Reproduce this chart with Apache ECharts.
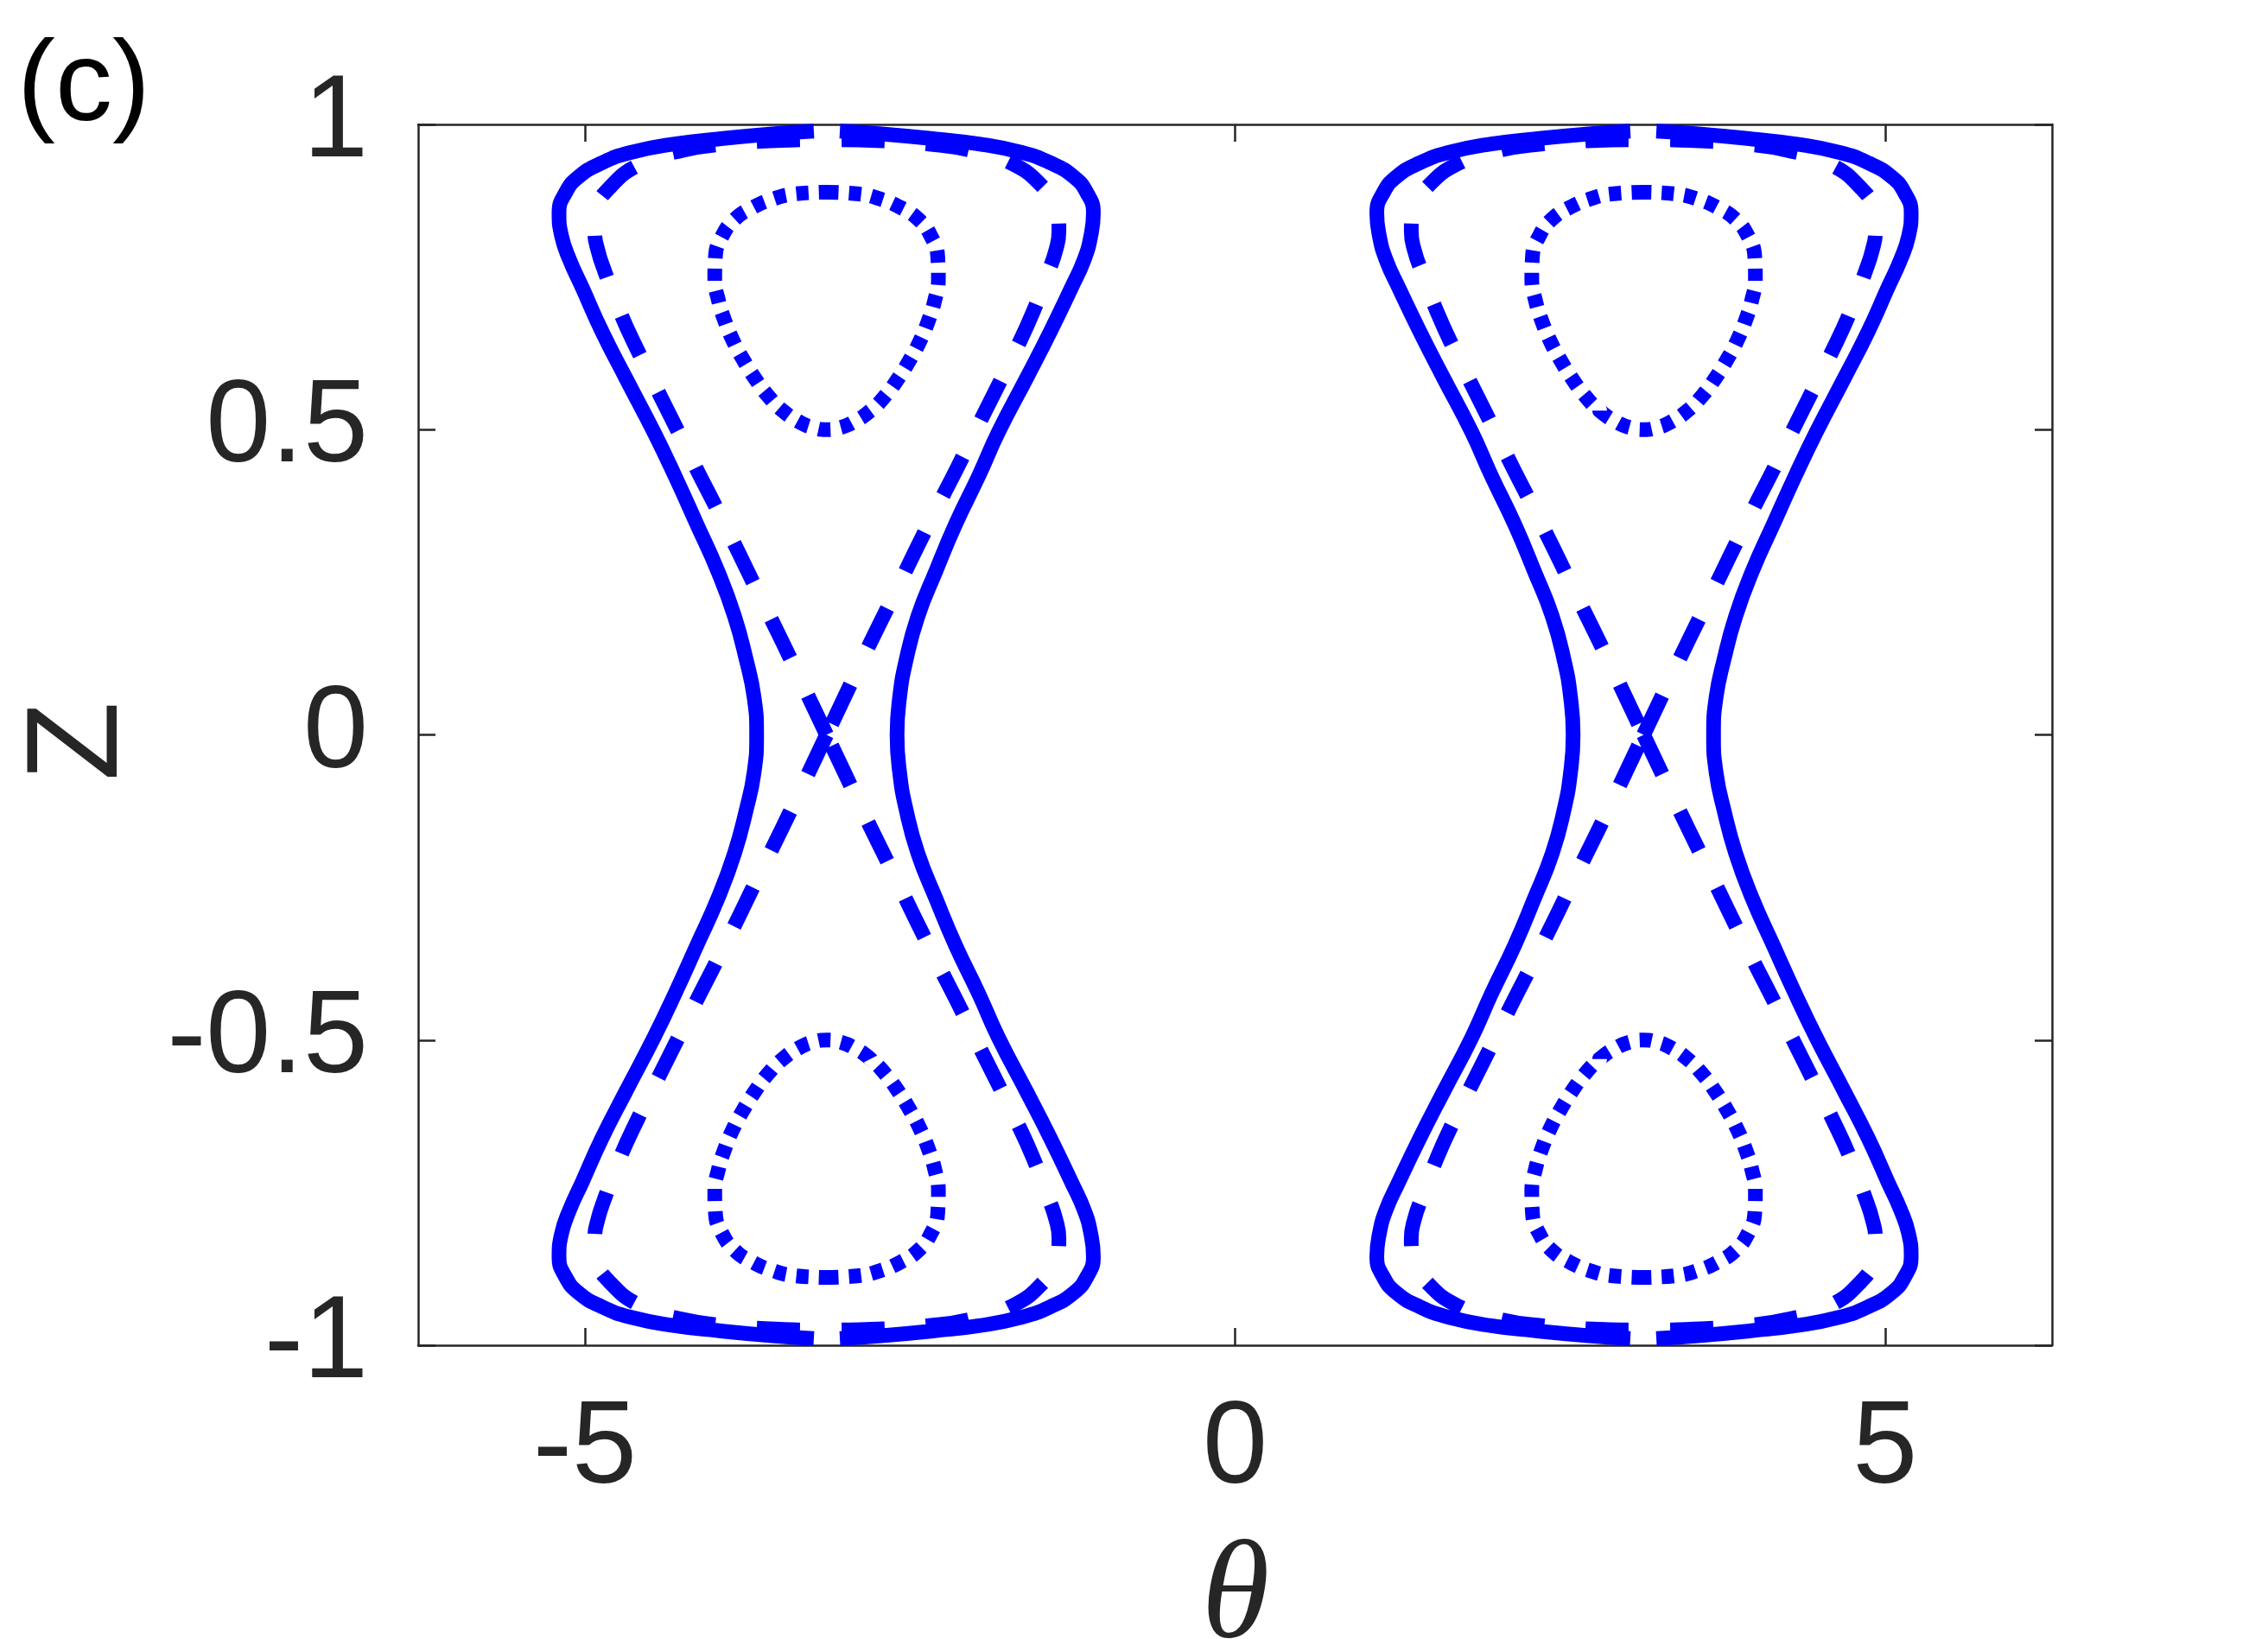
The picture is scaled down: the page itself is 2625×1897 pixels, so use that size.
<!DOCTYPE html>
<html><head><meta charset="utf-8">
<script src="https://cdn.jsdelivr.net/npm/echarts@6/dist/echarts.min.js"></script>
<style>html,body{margin:0;padding:0;background:#fff}#chart{width:2625px;height:1897px}</style>
</head><body><div id="chart"></div>
<script>
// ---- axis ticks ----
const xTicks = [-5, 0, 5];
const yTicks = [-1, -0.5, 0, 0.5, 1];
const thetaMin = -6.2832, thetaMax = 6.2832;

// ---- solid curves (two branches per lobe, top -> bottom) ----
const solidZ = [0.989, 0.984, 0.976, 0.968, 0.954, 0.937, 0.914, 0.888, 0.855, 0.817, 0.779, 0.732, 0.661, 0.586, 0.496, 0.425, 0.345, 0.269, 0.194, 0.123, 0.062, 0.0,
  -0.062, -0.123, -0.194, -0.269, -0.345, -0.425, -0.496, -0.586, -0.661, -0.732, -0.779, -0.817, -0.855, -0.888, -0.914, -0.937, -0.954, -0.968, -0.976, -0.984, -0.989];
const solidThetaL1 = [-3.24, -3.58, -3.98, -4.31, -4.65, -4.87, -5.05, -5.15, -5.20, -5.18, -5.12, -5.02, -4.87, -4.69, -4.47, -4.31, -4.14, -3.98, -3.85, -3.76, -3.70, -3.68,
  -3.70, -3.76, -3.85, -3.98, -4.14, -4.31, -4.47, -4.69, -4.87, -5.02, -5.12, -5.18, -5.20, -5.15, -5.05, -4.87, -4.65, -4.31, -3.98, -3.58, -3.24];
const solidThetaR1 = [-3.04, -2.70, -2.30, -1.97, -1.64, -1.42, -1.24, -1.14, -1.09, -1.11, -1.16, -1.26, -1.42, -1.60, -1.82, -1.97, -2.15, -2.30, -2.44, -2.53, -2.58, -2.60,
  -2.58, -2.53, -2.44, -2.30, -2.15, -1.97, -1.82, -1.60, -1.42, -1.26, -1.16, -1.11, -1.09, -1.14, -1.24, -1.42, -1.64, -1.97, -2.30, -2.70, -3.04];
const solidThetaL2 = [3.04, 2.70, 2.30, 1.97, 1.64, 1.42, 1.24, 1.14, 1.09, 1.11, 1.16, 1.26, 1.42, 1.60, 1.82, 1.97, 2.15, 2.30, 2.44, 2.53, 2.58, 2.60,
  2.58, 2.53, 2.44, 2.30, 2.15, 1.97, 1.82, 1.60, 1.42, 1.26, 1.16, 1.11, 1.09, 1.14, 1.24, 1.42, 1.64, 1.97, 2.30, 2.70, 3.04];
const solidThetaR2 = [3.24, 3.58, 3.98, 4.31, 4.65, 4.87, 5.05, 5.15, 5.20, 5.18, 5.12, 5.02, 4.87, 4.69, 4.47, 4.31, 4.14, 3.98, 3.85, 3.76, 3.70, 3.68,
  3.70, 3.76, 3.85, 3.98, 4.14, 4.31, 4.47, 4.69, 4.87, 5.02, 5.12, 5.18, 5.20, 5.15, 5.05, 4.87, 4.65, 4.31, 3.98, 3.58, 3.24];

// ---- dashed separatrix (upper and lower loop per lobe, from the crossing point) ----
const sepZUpper = [0, 0.056, 0.120, 0.184, 0.247, 0.311, 0.374, 0.437, 0.501, 0.564, 0.627, 0.692, 0.759, 0.793, 0.825, 0.860, 0.895, 0.936, 0.958, 0.968, 0.973, 0.975,
  0.973, 0.968, 0.958, 0.936, 0.895, 0.860, 0.825, 0.793, 0.759, 0.692, 0.627, 0.564, 0.501, 0.437, 0.374, 0.311, 0.247, 0.184, 0.120, 0.056, 0];
const sepZLower = [0, -0.056, -0.120, -0.184, -0.247, -0.311, -0.374, -0.437, -0.501, -0.564, -0.627, -0.692, -0.759, -0.793, -0.825, -0.860, -0.895, -0.936, -0.958, -0.968, -0.973, -0.975,
  -0.973, -0.968, -0.958, -0.936, -0.895, -0.860, -0.825, -0.793, -0.759, -0.692, -0.627, -0.564, -0.501, -0.437, -0.374, -0.311, -0.247, -0.184, -0.120, -0.056, 0];
const sepTheta1 = [-3.142, -3.267, -3.409, -3.555, -3.701, -3.847, -3.995, -4.146, -4.294, -4.442, -4.589, -4.729, -4.848, -4.900, -4.925, -4.910, -4.817, -4.567, -4.239, -3.918, -3.580, -3.142,
  -2.700, -2.366, -2.045, -1.717, -1.467, -1.370, -1.355, -1.380, -1.435, -1.555, -1.695, -1.842, -1.990, -2.138, -2.289, -2.437, -2.583, -2.729, -2.875, -3.017, -3.142];
const sepTheta2 = [3.142, 3.267, 3.409, 3.555, 3.701, 3.847, 3.995, 4.146, 4.294, 4.442, 4.589, 4.729, 4.848, 4.900, 4.925, 4.910, 4.817, 4.567, 4.239, 3.918, 3.580, 3.142,
  2.700, 2.366, 2.045, 1.717, 1.467, 1.370, 1.355, 1.380, 1.435, 1.555, 1.695, 1.842, 1.990, 2.138, 2.289, 2.437, 2.583, 2.729, 2.875, 3.017, 3.142];

// ---- dotted closed orbits ----
const dotZUpper = [0.889, 0.886, 0.878, 0.864, 0.845, 0.817, 0.783, 0.747, 0.712, 0.679, 0.646, 0.615, 0.585, 0.557, 0.531, 0.512, 0.503, 0.500,
  0.503, 0.512, 0.531, 0.557, 0.585, 0.615, 0.646, 0.679, 0.712, 0.747, 0.783, 0.817, 0.845, 0.864, 0.878, 0.886, 0.889];
const dotZLower = [-0.889, -0.886, -0.878, -0.864, -0.845, -0.817, -0.783, -0.747, -0.712, -0.679, -0.646, -0.615, -0.585, -0.557, -0.531, -0.512, -0.503, -0.500,
  -0.503, -0.512, -0.531, -0.557, -0.585, -0.615, -0.646, -0.679, -0.712, -0.747, -0.783, -0.817, -0.845, -0.864, -0.878, -0.886, -0.889];
const dotTheta1 = [-3.142, -2.892, -2.732, -2.575, -2.438, -2.339, -2.287, -2.282, -2.310, -2.358, -2.422, -2.500, -2.588, -2.685, -2.804, -2.937, -3.042, -3.142,
  -3.242, -3.347, -3.480, -3.599, -3.696, -3.784, -3.862, -3.926, -3.974, -4.002, -3.997, -3.945, -3.846, -3.709, -3.552, -3.392, -3.142];
const dotTheta2 = [3.142, 2.892, 2.732, 2.575, 2.438, 2.339, 2.287, 2.282, 2.310, 2.358, 2.422, 2.500, 2.588, 2.685, 2.804, 2.937, 3.042, 3.142,
  3.242, 3.347, 3.480, 3.599, 3.696, 3.784, 3.862, 3.926, 3.974, 4.002, 3.997, 3.945, 3.846, 3.709, 3.552, 3.392, 3.142];

// ---- build ----
function zip(xs, ys) { return xs.map((x, i) => [x, ys[i]]); }
const BLUE = '#0000ff';
const LW = 17;
function curve(name, data, type) {
  return {
    name: name, type: 'line', data: data, showSymbol: false, symbol: 'none',
    smooth: 0.5, animation: false, silent: true, clip: true,
    lineStyle: { color: BLUE, width: LW, type: type, cap: 'butt', join: 'round' }
  };
}
const DASH = [50, 48];
const DOT = [14, 12];
const series = [
  curve('solid L1', zip(solidThetaL1, solidZ), 'solid'),
  curve('solid R1', zip(solidThetaR1, solidZ), 'solid'),
  curve('solid L2', zip(solidThetaL2, solidZ), 'solid'),
  curve('solid R2', zip(solidThetaR2, solidZ), 'solid'),
  curve('sep U1', zip(sepTheta1, sepZUpper), DASH),
  curve('sep L1', zip(sepTheta1, sepZLower), DASH),
  curve('sep U2', zip(sepTheta2, sepZUpper), DASH),
  curve('sep L2', zip(sepTheta2, sepZLower), DASH),
  curve('dot U1', zip(dotTheta1, dotZUpper), DOT),
  curve('dot L1', zip(dotTheta1, dotZLower), DOT),
  curve('dot U2', zip(dotTheta2, dotZUpper), DOT),
  curve('dot L2', zip(dotTheta2, dotZLower), DOT)
];

const AX = '#262626';
const FONT = '"Liberation Sans", Arial, Helvetica, sans-serif';
function xAxis(pos, labels) {
  return {
    type: 'value', position: pos, min: thetaMin, max: thetaMax,
    axisLine: { show: true, onZero: false, lineStyle: { color: AX, width: 2.5 } },
    axisTick: { show: true, inside: true, length: 20, customValues: xTicks, lineStyle: { color: AX, width: 2.5 } },
    axisLabel: { show: labels, customValues: xTicks, fontSize: 135, color: AX, fontFamily: FONT, margin: 54 },
    splitLine: { show: false }
  };
}
function yAxis(pos, labels) {
  return {
    type: 'value', position: pos, min: -1, max: 1, interval: 0.5,
    axisLine: { show: true, onZero: false, lineStyle: { color: AX, width: 2.5 } },
    axisTick: { show: true, inside: true, length: 20, lineStyle: { color: AX, width: 2.5 } },
    axisLabel: { show: labels, fontSize: 135, color: AX, fontFamily: FONT, margin: 58,
      formatter: v => (yTicks.indexOf(v) >= 0 ? String(v) : '') },
    splitLine: { show: false }
  };
}

const chart = echarts.init(document.getElementById('chart'), null, { renderer: 'canvas', width: 2625, height: 1897 });
chart.setOption({
  backgroundColor: '#ffffff',
  animation: false,
  grid: { left: 484, top: 144, right: 250, bottom: 340, containLabel: false },
  xAxis: [xAxis('bottom', true), xAxis('top', false)],
  yAxis: [yAxis('left', true), yAxis('right', false)],
  series: series,
  graphic: [
    { type: 'text', x: 20, y: 103, style: { text: '(c)', font: '132px ' + FONT, fill: '#000000', align: 'left', verticalAlign: 'middle' } },
    { type: 'text', x: 94, y: 858, rotation: Math.PI / 2, style: { text: 'Z', font: '150px ' + FONT, fill: AX, align: 'center', verticalAlign: 'middle' } },
    { type: 'text', x: 1430, y: 1852, style: { text: 'θ', font: 'italic 160px "Liberation Serif", "Times New Roman", serif', fill: AX, align: 'center', verticalAlign: 'middle' } }
  ]
});
</script></body></html>
